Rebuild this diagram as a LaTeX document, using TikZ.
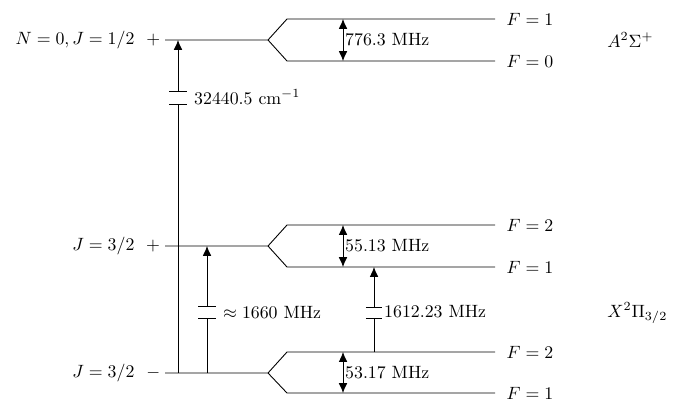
\documentclass[tikz,border=0pt]{standalone}
\usepackage{amsmath,amssymb}
\usetikzlibrary{positioning,arrows.meta}
\begin{document}
\begin{tikzpicture}[x=0.5618pt, y=-0.5618pt, >={Latex[length=5.5pt,width=4.8pt]}, line width=0.5pt,
  lbl/.style={inner sep=1pt}]
\useasboundingbox (0,0) rectangle (682,399);
% rotational levels and their hyperfine splitting
\coordinate (A) at (165,40);  \coordinate (A-split) at (268,40);
\coordinate (A-up) at (287,19);  \coordinate (A-upend) at (495,19);
\coordinate (A-dn) at (287,61);  \coordinate (A-dnend) at (495,61);
\coordinate (P) at (165,246); \coordinate (P-split) at (268,246);
\coordinate (P-up) at (287,225); \coordinate (P-upend) at (495,225);
\coordinate (P-dn) at (287,267); \coordinate (P-dnend) at (495,267);
\coordinate (M) at (165,373); \coordinate (M-split) at (268,373);
\coordinate (M-up) at (287,352); \coordinate (M-upend) at (495,352);
\coordinate (M-dn) at (287,393); \coordinate (M-dnend) at (495,393);
\foreach \s in {A,P,M} {
  \draw (\s) -- (\s-split) -- (\s-up) -- (\s-upend);
  \draw (\s-split) -- (\s-dn) -- (\s-dnend);
}
\node[left=0pt of A, inner sep=2.5pt] (lA) {$N=0, J=1/2\ \ +$};
\node[left=0pt of P, inner sep=2.5pt] (lP) {$J=3/2\ \ +$};
\node[left=0pt of M, inner sep=2.5pt] (lM) {$J=3/2\ \ -$};
\node[right=3pt of A-upend] (fA1) {$F=1$};
\node[right=3pt of A-dnend] (fA0) {$F=0$};
\node[right=3pt of P-upend] (fP2) {$F=2$};
\node[right=3pt of P-dnend] (fP1) {$F=1$};
\node[right=3pt of M-upend] (fM2) {$F=2$};
\node[right=3pt of M-dnend] (fM1) {$F=1$};
\node[right] (stA) at (601,40) {$A^2\Sigma^+$};
\node[right] (stX) at (601,313) {$X^2\Pi_{3/2}$};
% hyperfine intervals
\coordinate (hf) at (343,0);
\draw[<->] (A-up -| hf) -- (A-dn -| hf) node[midway, right, lbl] (hfA) {776.3 MHz};
\draw[<->] (P-up -| hf) -- (P-dn -| hf) node[midway, right, lbl] (hfP) {55.13 MHz};
\draw[<->] (M-up -| hf) -- (M-dn -| hf) node[midway, right, lbl] (hfM) {53.17 MHz};
% electronic transition
\coordinate (E-lo) at (178,104); \coordinate (E-hi) at (178,91);
\draw (M -| E-lo) -- (E-lo);
\draw[->] (E-hi) -- (A -| E-hi);
\draw ([xshift=-5pt]E-lo) -- ([xshift=5pt]E-lo);
\draw ([xshift=-5pt]E-hi) -- ([xshift=5pt]E-hi);
\node[right, lbl] (tE) at (192,97) {$32440.5~\mathrm{cm}^{-1}$};
% lambda doubling
\coordinate (L-lo) at (207,318); \coordinate (L-hi) at (207,306);
\draw (M -| L-lo) -- (L-lo);
\draw[->] (L-hi) -- (P -| L-hi);
\draw ([xshift=-5pt]L-lo) -- ([xshift=5pt]L-lo);
\draw ([xshift=-5pt]L-hi) -- ([xshift=5pt]L-hi);
\node[right, lbl] (tL) at (221,312) {$\approx 1660$ MHz};
% 1612 line
\coordinate (O-lo) at (374,318); \coordinate (O-hi) at (374,307);
\draw (M-up -| O-lo) -- (O-lo);
\draw[->] (O-hi) -- (P-dn -| O-hi);
\draw ([xshift=-4.5pt]O-lo) -- ([xshift=4.5pt]O-lo);
\draw ([xshift=-4.5pt]O-hi) -- ([xshift=4.5pt]O-hi);
\node[right, lbl] (tO) at (382,312) {1612.23 MHz};
\end{tikzpicture}
\end{document}
